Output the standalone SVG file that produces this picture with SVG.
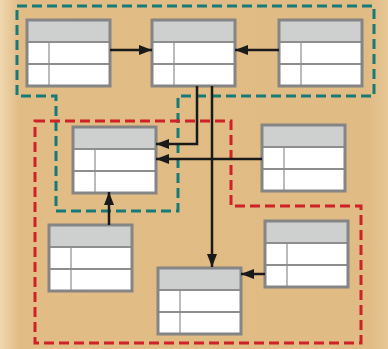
<svg xmlns="http://www.w3.org/2000/svg" width="388" height="349" viewBox="0 0 388 349">
<defs>
<linearGradient id="bg" x1="0" y1="0" x2="1" y2="0">
<stop offset="0" stop-color="#efd8b0"/>
<stop offset="0.05" stop-color="#e1bc85"/>
<stop offset="0.95" stop-color="#e0bb84"/>
<stop offset="1" stop-color="#e8c794"/>
</linearGradient>
<filter id="soft" x="-10%" y="-10%" width="120%" height="120%">
<feGaussianBlur stdDeviation="0.7"/>
</filter>
<marker id="ah" viewBox="0 0 13 10" refX="13" refY="5" markerWidth="13" markerHeight="10" markerUnits="userSpaceOnUse" orient="auto">
<path d="M0,0 L13,5 L0,10 Z" fill="#1a1a1a"/>
</marker>
<g id="tbl">
<rect x="0" y="0" width="83" height="66" fill="#ffffff"/>
<rect x="0" y="0" width="83" height="22" fill="#cecfcf"/>
<g filter="url(#soft)">
<line x1="0" y1="22" x2="83" y2="22" class="grid"/>
<line x1="0" y1="44" x2="83" y2="44" class="grid"/>
<line x1="22" y1="22" x2="22" y2="66" class="grid" stroke-opacity="0.6"/>
<rect x="0" y="0" width="83" height="66" fill="none" class="frame"/>
</g>
</g>
</defs>
<style>
.grid{stroke:#8e8e8e;stroke-width:2;}
.frame{stroke:#858585;stroke-width:3;}
.teal{fill:none;stroke:#167a78;stroke-width:3;stroke-dasharray:10 5;}
.red{fill:none;stroke:#cf2128;stroke-width:3;stroke-dasharray:10 5;}
.conn{fill:none;stroke:#1a1a1a;stroke-width:2.5;}
</style>
<rect width="388" height="349" fill="url(#bg)"/>
<g id="groups">
<path class="teal" d="M17,6 H374 V96 H178 V211 H56 V96 H17 Z"/>
<path class="red" d="M35,121 H231 V206 H361 V343 H35 Z"/>
</g>
<g id="t1"><use href="#tbl" x="27" y="20"/></g>
<g id="t2"><use href="#tbl" x="152" y="20"/></g>
<g id="t3"><use href="#tbl" x="279" y="20"/></g>
<g id="t4"><use href="#tbl" x="73" y="127"/></g>
<g id="t5"><use href="#tbl" x="262" y="125"/></g>
<g id="t6"><use href="#tbl" x="49" y="225"/></g>
<g id="t7"><use href="#tbl" x="158" y="268"/></g>
<g id="t8"><use href="#tbl" x="265" y="221"/></g>
<g id="connectors">
<path class="conn" d="M110,50 H152" marker-end="url(#ah)"/>
<path class="conn" d="M279,50 H235" marker-end="url(#ah)"/>
<path class="conn" d="M197,86 V144 H156" marker-end="url(#ah)"/>
<path class="conn" d="M212,86 V267" marker-end="url(#ah)"/>
<path class="conn" d="M262,159 H156" marker-end="url(#ah)"/>
<path class="conn" d="M109,225 V192" marker-end="url(#ah)"/>
<path class="conn" d="M265,274 H241" marker-end="url(#ah)"/>
</g>
</svg>
